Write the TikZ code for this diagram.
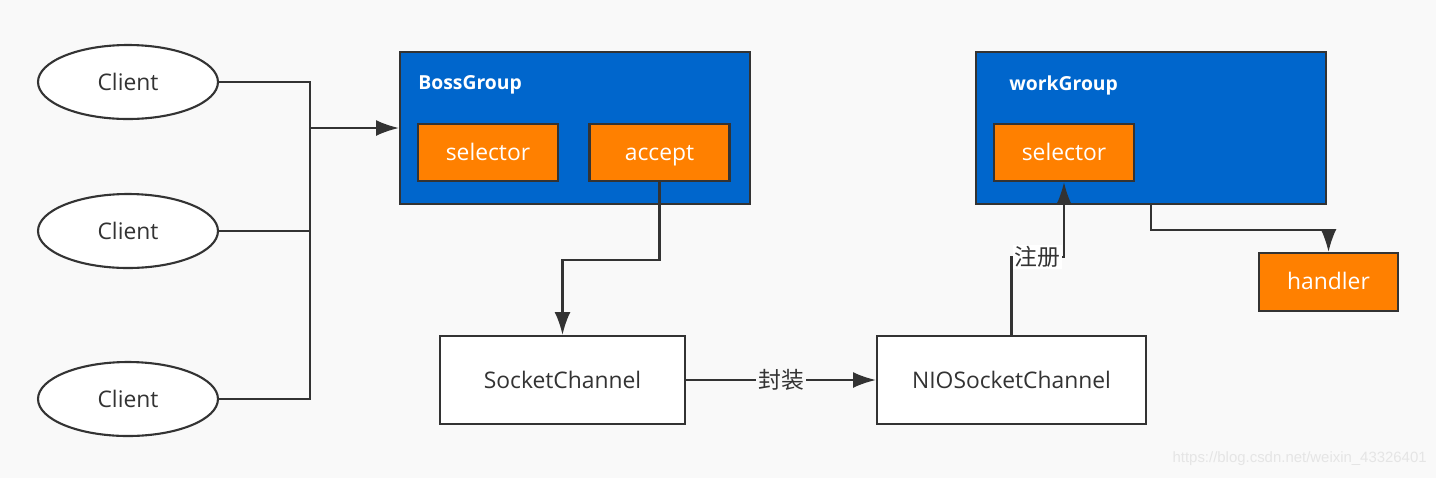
\documentclass[tikz,border=0pt]{standalone}
\usepackage{fontspec}
\setmainfont{Open Sans}
\newfontfamily\cjk{Noto Sans CJK SC}
\newfontfamily\wmfont{Liberation Sans}
\usetikzlibrary{arrows.meta, shapes.geometric}
\definecolor{bgcol}{HTML}{F9F9F9}
\definecolor{linecol}{HTML}{333333}
\definecolor{groupblue}{HTML}{0066CC}
\definecolor{boxorange}{HTML}{FF8000}
\begin{document}
\begin{tikzpicture}[x=0.02cm, y=-0.02cm,
    client/.style={draw=linecol, line width=1.2pt, fill=white, ellipse, minimum width=3.6cm, minimum height=1.48cm, font=\fontsize{13}{15}\selectfont, text=linecol},
    group/.style={draw=linecol, line width=1.2pt, fill=groupblue, minimum width=7cm, minimum height=3.04cm},
    grouptitle/.style={anchor=west, inner sep=0pt, text=white, font=\bfseries\fontsize{11}{13}\selectfont},
    orangebox/.style={draw=linecol, line width=1.2pt, fill=boxorange, minimum width=2.8cm, minimum height=1.14cm, text height=1.1em, text depth=0.2em, text=white, font=\fontsize{13}{15}\selectfont},
    plainbox/.style={draw=linecol, line width=1.2pt, fill=white, minimum height=1.76cm, text=linecol, font=\fontsize{13}{15}\selectfont},
    conn/.style={draw=linecol, line width=1.2pt},
    arr/.style={conn, -{Latex[length=13pt, width=9pt]}},
    lbl/.style={fill=bgcol, inner sep=1pt, text=linecol, font=\cjk\fontsize{13}{15}\selectfont}]
  \fill[bgcol] (0,0) rectangle (1436,478);
  % clients
  \node[client] (client1) at (128,82) {Client};
  \node[client] (client2) at (128,231) {Client};
  \node[client] (client3) at (128,399) {Client};
  % groups
  \node[group] (boss) at (575,128) {};
  \node[grouptitle] (bosstitle) at (418,85) {BossGroup};
  \node[orangebox] (bosssel) at (488,152.5) {selector};
  \node[orangebox] (accept) at (659.5,152.5) {accept};
  \node[group] (work) at (1151,128) {};
  \node[grouptitle] (worktitle) at (1009,85) {workGroup};
  \node[orangebox] (worksel) at (1064,152.5) {selector};
  \node[orangebox, minimum width=2.78cm, minimum height=1.16cm] (handler) at (1328.5,282) {handler};
  % channels
  \node[plainbox, minimum width=4.9cm] (sock) at (562.5,380) {SocketChannel};
  \node[plainbox, minimum width=5.38cm] (nio) at (1011.5,380) {NIOSocketChannel};
  % connectors
  \coordinate (bus) at (310,128);
  \draw[conn] (client1.east) -| (bus);
  \draw[conn] (client3.east) -| (bus);
  \draw[conn] (client2.east) -- (client2.east -| bus);
  \draw[arr] (bus) -- (boss.west);
  \draw[arr] (accept.south) -- ++(0,78) -| (sock.north);
  \draw[arr] (sock.east) -- node[lbl] {封装} (nio.west);
  \draw[arr] (nio.north) -- ++(0,-78) -| node[pos=0.25, lbl, fill=white] {注册} (worksel.south);
  \draw[arr] (work.south) -- ++(0,25) -| (handler.north);
  % watermark
  \node[anchor=east, inner sep=0pt, text=black!10, font=\wmfont\fontsize{8.5}{10}\selectfont] (mark) at (1427,459) {https://blog.csdn.net/weixin\_43326401};
\end{tikzpicture}
\end{document}
